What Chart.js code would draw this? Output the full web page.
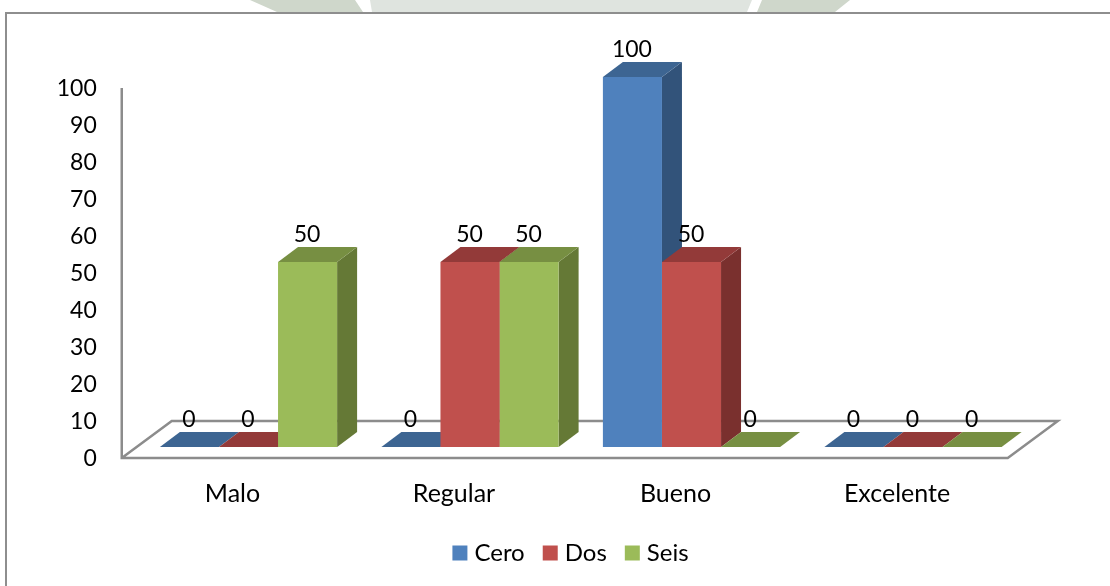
<!DOCTYPE html>
<html>
<head>
<meta charset="utf-8">
<title>Cero Dos Seis</title>
<script src="https://cdn.jsdelivr.net/npm/chart.js@4/dist/chart.umd.min.js"></script>
<style>
    html, body { margin: 0; padding: 0; background: #ffffff; }
    canvas { display: block; }
</style>
</head>
<body>
<canvas id="myChart" width="1110" height="586"></canvas>
<script>
var categories = ['Malo', 'Regular', 'Bueno', 'Excelente'];
var cero = [0, 0, 100, 0];
var dos = [0, 50, 50, 0];
var seis = [50, 50, 0, 0];
var yTicks = [0, 10, 20, 30, 40, 50, 60, 70, 80, 90, 100];

var fontName = 'Lato';
var numberSize = 23;
var legendSize = 24;
var categorySize = 25;

// depth of each box, and how far the axis plane sits in front of the bars
var depthX = 20;
var depthY = 15;
var frontX = 16;
var frontY = 11;

var shades = [
    { top: '#3d6592', side: '#32537a' },
    { top: '#933a39', side: '#7a302e' },
    { top: '#778f42', side: '#657936' }
];

function poly(ctx, pts, color) {
    ctx.fillStyle = color;
    ctx.beginPath();
    ctx.moveTo(pts[0][0], pts[0][1]);
    for (var i = 1; i < pts.length; i++) {
        ctx.lineTo(pts[i][0], pts[i][1]);
    }
    ctx.closePath();
    ctx.fill();
}

var frame = {
    id: 'frame',
    beforeDraw: function (chart) {
        var ctx = chart.ctx;
        // pale page artwork showing above the box
        poly(ctx, [[250, 0], [355, 0], [363, 12], [277, 12]], '#cfd7cb');
        poly(ctx, [[370, 0], [752, 0], [747, 12], [372, 12]], '#dfe4df');
        poly(ctx, [[762, 0], [850, 0], [835, 12], [757, 12]], '#cfd7cb');

        ctx.strokeStyle = '#8e8e8e';
        ctx.lineWidth = 2;
        ctx.strokeRect(6, 13, 1120, 600);
    }
};

var floor3d = {
    id: 'floor3d',
    beforeDatasetsDraw: function (chart) {
        var ctx = chart.ctx;
        var area = chart.chartArea;
        var y = chart.scales.y;
        var left = area.left - frontX;
        var right = area.right - frontX;
        var bottom = y.getPixelForValue(0) + frontY;
        var top = y.getPixelForValue(100) + frontY;
        var backX = 50;
        var backY = 37;

        ctx.save();
        ctx.strokeStyle = '#8c8c8c';
        ctx.lineWidth = 2.5;
        ctx.beginPath();
        ctx.moveTo(left, top);
        ctx.lineTo(left, bottom);
        ctx.lineTo(right, bottom);
        ctx.lineTo(right + backX, bottom - backY);
        ctx.lineTo(left + backX, bottom - backY);
        ctx.lineTo(left, bottom);
        ctx.stroke();

        // tops and sides go left to right, the library paints the fronts over them
        chart.data.datasets.forEach(function (ds, d) {
            chart.getDatasetMeta(d).data.forEach(function (bar) {
                var x0 = bar.x - bar.width / 2;
                var x1 = bar.x + bar.width / 2;
                poly(ctx, [[x1, bar.y], [x1 + depthX, bar.y - depthY], [x1 + depthX, bar.base - depthY], [x1, bar.base]], shades[d].side);
                poly(ctx, [[x0, bar.y], [x0 + depthX, bar.y - depthY], [x1 + depthX, bar.y - depthY], [x1, bar.y]], shades[d].top);
            });
        });
        ctx.restore();
    }
};

var valueLabels = {
    id: 'valueLabels',
    afterDatasetsDraw: function (chart) {
        var ctx = chart.ctx;
        ctx.save();
        ctx.fillStyle = '#000000';
        ctx.font = numberSize + 'px ' + fontName;
        ctx.textAlign = 'center';
        ctx.textBaseline = 'middle';
        chart.data.datasets.forEach(function (ds, d) {
            chart.getDatasetMeta(d).data.forEach(function (bar, i) {
                ctx.fillText(ds.data[i], bar.x - 0.5, bar.y - 27);
            });
        });
        ctx.restore();
    }
};

new Chart(document.getElementById('myChart'), {
    type: 'bar',
    data: {
        labels: categories,
        datasets: [
            { label: 'Cero', data: cero, backgroundColor: '#4f81bd' },
            { label: 'Dos', data: dos, backgroundColor: '#c0504d' },
            { label: 'Seis', data: seis, backgroundColor: '#9bbb59' }
        ]
    },
    options: {
        responsive: false,
        animation: false,
        categoryPercentage: 0.8,
        barPercentage: 1,
        layout: { padding: { left: 36, right: 0, top: 77, bottom: 11 } },
        plugins: {
            tooltip: { enabled: false },
            legend: {
                position: 'bottom',
                labels: {
                    color: '#000000',
                    font: { family: fontName, size: legendSize },
                    // small box with a heavy outline keeps the text close to the square
                    boxWidth: 5,
                    boxHeight: 5,
                    padding: 23,
                    generateLabels: function (chart) {
                        var items = Chart.defaults.plugins.legend.labels.generateLabels(chart);
                        items.forEach(function (item) {
                            item.lineWidth = 10;
                            item.strokeStyle = item.fillStyle;
                        });
                        return items;
                    }
                }
            }
        },
        scales: {
            x: {
                grid: { display: false },
                border: { display: false },
                afterFit: function (scale) { scale.height = 71; },
                ticks: {
                    color: '#000000',
                    font: { family: fontName, size: categorySize },
                    padding: 24,
                    labelOffset: -frontX,
                    maxRotation: 0
                }
            },
            y: {
                min: 0,
                max: 100,
                grid: { display: false },
                border: { display: false },
                afterFit: function (scale) { scale.width = 101.75; },
                afterBuildTicks: function (scale) {
                    scale.ticks = yTicks.map(function (v) { return { value: v }; });
                },
                ticks: {
                    color: '#000000',
                    font: { family: fontName, size: numberSize },
                    padding: 33,
                    labelOffset: frontY + 1
                }
            },
            // empty right margin, leaves the legend centred on the whole box
            margin: {
                position: 'right',
                grid: { display: false },
                border: { display: false },
                ticks: { display: false },
                afterFit: function (scale) { scale.width = 86.25; }
            }
        }
    },
    plugins: [frame, floor3d, valueLabels]
});
</script>
</body>
</html>
